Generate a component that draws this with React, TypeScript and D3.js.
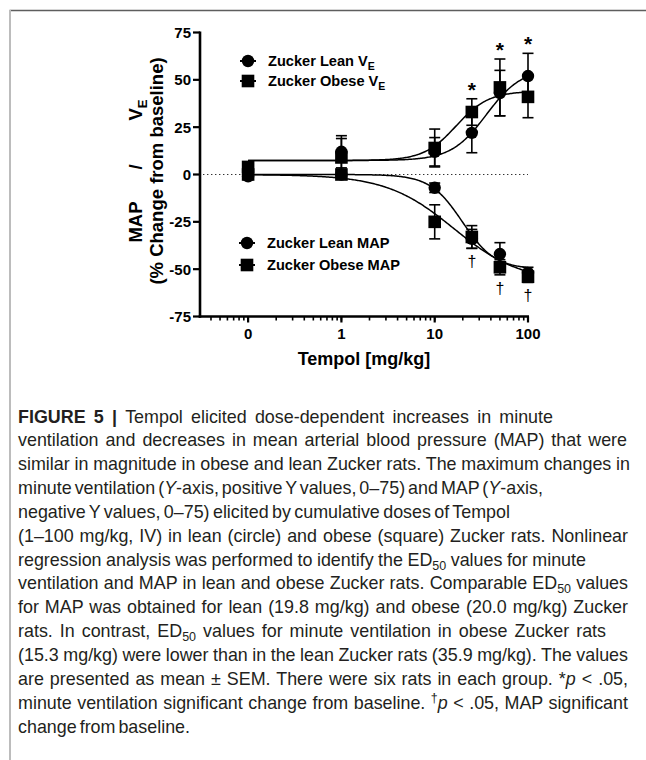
import React, { useLayoutEffect, useRef } from "react";
import * as d3 from "d3";

// doses of Tempol (mg/kg); the 0 dose is drawn at 0.1 on the log axis
const doses = [0, 1, 10, 25, 50, 100];
const zeroDoseAt = 0.1;
const xTickValues = [0.1, 1, 10, 100];
const xTickLabels = ["0", "1", "10", "100"];
const yTickValues = [75, 50, 25, 0, -25, -50, -75];

// % change from baseline, mean and SEM
const veLean = [0, 12, 12, 22, 43, 52];
const veLeanSem = [2, 8.5, 7.5, 10.5, 12, 12];
const veObese = [4, 9, 14, 33, 46, 41];
const veObeseSem = [2.5, 10, 10, 7, 15, 11];
const mapLean = [-1, 0, -7, -34, -42, -52];
const mapLeanSem = [1.5, 1, 2.5, 5, 6, 3];
const mapObese = [0, 0, -25, -33, -49, -54];
const mapObeseSem = [1.5, 1.5, 9, 6, 4, 3];

// significance marks
const veStarDoses = [25, 50, 100];
const mapDaggerDoses = [25, 50, 100];

// nonlinear regression fits (sigmoid dose-response)
const fitVeLean = { start: 7.4, end: 56, ed50: 35.9, hill: 2.3 };
const fitVeObese = { start: 7.4, end: 44, ed50: 17, hill: 2.5 };
const fitMapLean = { start: 0, end: -50, ed50: 19.8, hill: 2.5 };
const fitMapObese = { start: 0, end: -57, ed50: 16, hill: 1.2 };

type Seg = { t: string; b?: boolean; i?: boolean; sub?: boolean; sup?: boolean };

const captionLines: Seg[][] = [
  [{ t: "FIGURE 5 | ", b: true }, { t: "Tempol elicited dose-dependent increases in minute" }],
  [{ t: "ventilation and decreases in mean arterial blood pressure (MAP) that were" }],
  [{ t: "similar in magnitude in obese and lean Zucker rats. The maximum changes in" }],
  [{ t: "minute ventilation (" }, { t: "Y", i: true }, { t: "-axis, positive Y values, 0–75) and MAP (" }, { t: "Y", i: true }, { t: "-axis," }],
  [{ t: "negative Y values, 0–75) elicited by cumulative doses of Tempol" }],
  [{ t: "(1–100 mg/kg, IV) in lean (circle) and obese (square) Zucker rats. Nonlinear" }],
  [{ t: "regression analysis was performed to identify the ED" }, { t: "50", sub: true }, { t: " values for minute" }],
  [{ t: "ventilation and MAP in lean and obese Zucker rats. Comparable ED" }, { t: "50", sub: true }, { t: " values" }],
  [{ t: "for MAP was obtained for lean (19.8 mg/kg) and obese (20.0 mg/kg) Zucker" }],
  [{ t: "rats. In contrast, ED" }, { t: "50", sub: true }, { t: " values for minute ventilation in obese Zucker rats" }],
  [{ t: "(15.3 mg/kg) were lower than in the lean Zucker rats (35.9 mg/kg). The values" }],
  [{ t: "are presented as mean ± SEM. There were six rats in each group. *" }, { t: "p", i: true }, { t: " < .05," }],
  [{ t: "minute ventilation significant change from baseline. " }, { t: "†", sup: true }, { t: "p", i: true }, { t: " < .05, MAP significant" }],
  [{ t: "change from baseline." }],
];
// right end of each caption line in the reference
const captionLineEnds = [553, 627, 630, 536, 510, 628, 586, 628, 628, 606, 628, 628, 628, 185];

const FONT = "'Liberation Sans', Arial, Helvetica, sans-serif";

const x = d3.scaleLog().domain([0.0305, 100]).range([200, 528]);
const y = d3.scaleLinear().domain([-75, 75]).range([316.5, 32.5]);
const px = (d: number) => x(d === 0 ? zeroDoseAt : d);

function sigmoid(f: { start: number; end: number; ed50: number; hill: number }) {
  const xs = d3.range(0, 241).map((i) => Math.pow(10, -1 + (i * 3) / 240));
  const line = d3
    .line<number>()
    .x((d) => x(d))
    .y((d) => y(f.start + (f.end - f.start) / (1 + Math.pow(f.ed50 / d, f.hill))));
  return line(xs) || "";
}

function Marker({ cx, cy, shape }: { cx: number; cy: number; shape: string }) {
  if (shape === "circle") return <circle cx={cx} cy={cy} r={6.2} fill="#000" />;
  return <rect x={cx - 6.3} y={cy - 6.3} width={12.6} height={12.6} fill="#000" />;
}

function Series({ mean, sem, shape }: { mean: number[]; sem: number[]; shape: string }) {
  return (
    <g>
      {doses.map((d, i) => {
        const cx = px(d);
        const top = y(mean[i] + sem[i]);
        const bot = y(mean[i] - sem[i]);
        return (
          <g key={"e" + i} stroke="#000" strokeWidth={1.6}>
            <line x1={cx} x2={cx} y1={top} y2={bot} />
            <line x1={cx - 5.5} x2={cx + 5.5} y1={top} y2={top} />
            <line x1={cx - 5.5} x2={cx + 5.5} y1={bot} y2={bot} />
          </g>
        );
      })}
      {doses.map((d, i) => (
        <Marker key={"m" + i} cx={px(d)} cy={y(mean[i])} shape={shape} />
      ))}
    </g>
  );
}

function LegendItem({ lx, ly, shape, label, sub }: { lx: number; ly: number; shape: string; label: string; sub?: string }) {
  return (
    <g>
      <line x1={lx - 8} x2={lx + 8} y1={ly} y2={ly} stroke="#000" strokeWidth={2} />
      <Marker cx={lx} cy={ly} shape={shape} />
      <text x={lx + 20} y={ly + 5.2} fontSize={14.6} fontWeight="bold" fontFamily={FONT}>
        {label}
        {sub && (
          <tspan dy={4} fontSize={10.5}>
            {sub}
          </tspan>
        )}
      </text>
    </g>
  );
}

function Caption() {
  const ref = useRef<SVGGElement>(null);
  const x0 = 18;
  const y0 = 422.5;
  const step = 23.85;

  // stretch word spacing so each line ends where it does in the reference
  useLayoutEffect(() => {
    if (!ref.current) return;
    const texts = ref.current.querySelectorAll("text");
    texts.forEach((el, i) => {
      const t = el as SVGTextElement;
      t.style.wordSpacing = "0px";
      const natural = t.getComputedTextLength();
      const spaces = (t.textContent || "").split(" ").length - 1;
      if (spaces > 0) {
        const ws = (captionLineEnds[i] - x0 - natural) / spaces;
        t.style.wordSpacing = Math.max(-2, Math.min(6, ws)) + "px";
      }
    });
  }, []);

  return (
    <g ref={ref} fontFamily={FONT} fontSize={17.9} fill="#231f20">
      {captionLines.map((segs, li) => {
        let shift = 0;
        return (
          <text key={li} x={x0} y={y0 + li * step}>
            {segs.map((s, si) => {
              const target = s.sub ? 4 : s.sup ? -6.5 : 0;
              const dy = target - shift;
              shift = target;
              return (
                <tspan
                  key={si}
                  dy={dy}
                  fontWeight={s.b ? "bold" : undefined}
                  fontStyle={s.i ? "italic" : undefined}
                  fontSize={s.sub || s.sup ? 12.5 : undefined}
                >
                  {s.t}
                </tspan>
              );
            })}
          </text>
        );
      })}
    </g>
  );
}

export default function App() {
  const minorTicks = x.ticks();
  const veStarY = veStarDoses.map((d) => {
    const i = doses.indexOf(d);
    return y(Math.max(veLean[i] + veLeanSem[i], veObese[i] + veObeseSem[i]));
  });
  const mapDaggerY = mapDaggerDoses.map((d) => {
    const i = doses.indexOf(d);
    return y(Math.min(mapLean[i] - mapLeanSem[i], mapObese[i] - mapObeseSem[i]));
  });
  return (
    <svg
      width={646}
      height={760}
      style={{ position: "absolute", left: 0, top: 0, background: "#fff" }}
      fontFamily={FONT}
    >
      {/* panel frame */}
      <line x1={9.5} x2={646} y1={10.5} y2={10.5} stroke="#5e5e5e" strokeWidth={1.3} />
      <line x1={10} x2={10} y1={10} y2={760} stroke="#bcbcbc" strokeWidth={2} />

      {/* baseline */}
      <line x1={203} x2={528} y1={y(0)} y2={y(0)} stroke="#333" strokeWidth={1} strokeDasharray="1.4 2.6" />

      {/* fitted curves */}
      <g fill="none" stroke="#000" strokeWidth={1.5}>
        <path d={sigmoid(fitVeLean)} />
        <path d={sigmoid(fitVeObese)} />
        <path d={sigmoid(fitMapLean)} />
        <path d={sigmoid(fitMapObese)} />
      </g>

      <Series mean={veLean} sem={veLeanSem} shape="circle" />
      <Series mean={veObese} sem={veObeseSem} shape="square" />
      <Series mean={mapLean} sem={mapLeanSem} shape="circle" />
      <Series mean={mapObese} sem={mapObeseSem} shape="square" />

      {veStarDoses.map((d, i) => (
        <text key={"s" + i} x={px(d)} y={veStarY[i] - 2} textAnchor="middle" fontSize={21} fontWeight="bold">
          *
        </text>
      ))}
      {mapDaggerDoses.map((d, i) => (
        <text key={"g" + i} x={px(d)} y={mapDaggerY[i] + 19} textAnchor="middle" fontSize={16}>
          †
        </text>
      ))}

      {/* legends */}
      <LegendItem lx={248} ly={61} shape="circle" label="Zucker Lean V" sub="E" />
      <LegendItem lx={248} ly={81} shape="square" label="Zucker Obese V" sub="E" />
      <LegendItem lx={247} ly={243} shape="circle" label="Zucker Lean MAP" />
      <LegendItem lx={247} ly={265} shape="square" label="Zucker Obese MAP" />

      {/* y axis */}
      <line x1={200} x2={200} y1={y(75) - 1} y2={y(-75) + 1.2} stroke="#000" strokeWidth={2.6} />
      {yTickValues.map((v) => (
        <g key={v}>
          <line x1={193} x2={200} y1={y(v)} y2={y(v)} stroke="#000" strokeWidth={2.2} />
          <text x={191} y={y(v) + 5.4} textAnchor="end" fontSize={15} fontWeight="bold">
            {v}
          </text>
        </g>
      ))}

      {/* x axis */}
      <line x1={198.7} x2={529} y1={y(-75)} y2={y(-75)} stroke="#000" strokeWidth={2.6} />
      {minorTicks.map((t, i) => (
        <line key={i} x1={x(t)} x2={x(t)} y1={y(-75)} y2={y(-75) + 4} stroke="#000" strokeWidth={1.6} />
      ))}
      {xTickValues.map((t, i) => (
        <g key={"x" + i}>
          <line x1={x(t)} x2={x(t)} y1={y(-75)} y2={y(-75) + 6} stroke="#000" strokeWidth={2.2} />
          <text x={x(t)} y={338.5} textAnchor="middle" fontSize={15} fontWeight="bold">
            {xTickLabels[i]}
          </text>
        </g>
      ))}
      <text x={364} y={365} textAnchor="middle" fontSize={18} fontWeight="bold">
        Tempol [mg/kg]
      </text>

      {/* y title */}
      <g fontSize={18.5} fontWeight="bold" textAnchor="middle">
        <text transform="translate(141.5,222) rotate(-90)">MAP</text>
        <text transform="translate(141.5,167) rotate(-90)">/</text>
        <text transform="translate(141.5,110) rotate(-90)">
          V
          <tspan dy={5} fontSize={13}>
            E
          </tspan>
        </text>
        <text transform="translate(163,171) rotate(-90)">(% Change from baseline)</text>
      </g>

      <Caption />
    </svg>
  );
}
